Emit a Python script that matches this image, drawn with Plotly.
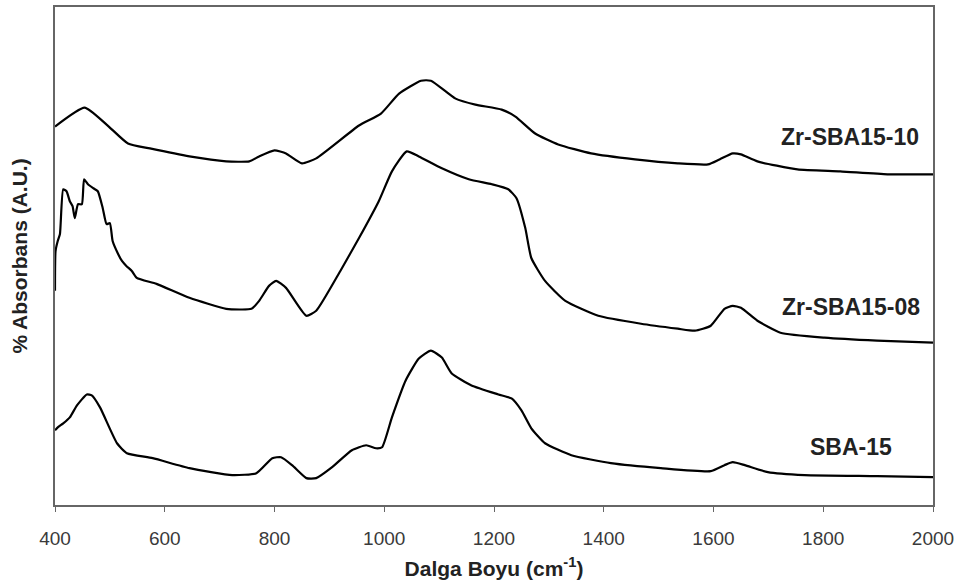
import plotly.graph_objects as go

# Wavenumber (cm^-1) and absorbance (arbitrary units)
zr10_x = [400, 454, 494, 533, 573, 645, 712, 754, 772, 800, 821, 850, 876, 954, 994, 1027,
          1067, 1085, 1130, 1166, 1214, 1239, 1275, 1317, 1377, 1457, 1535, 1590, 1611, 1635,
          1650, 1680, 1753, 1831, 1917, 2000]
zr10_y = [76.0, 79.8, 76.4, 72.6, 71.6, 70.0, 69.0, 69.0, 70.0, 71.2, 70.6, 68.6, 69.6, 76.2,
          78.6, 82.6, 85.2, 85.2, 81.6, 80.4, 79.4, 78.0, 74.6, 72.4, 70.6, 69.4, 68.6, 68.4,
          69.4, 70.6, 70.4, 69.0, 67.4, 67.0, 66.4, 66.4]

zr08_x = [400, 401, 405, 409, 415, 421, 427, 432, 436, 442, 449, 453, 460, 470, 478, 487, 494,
          500, 505, 515, 522, 530, 540, 549, 585, 645, 712, 758, 772, 790, 803, 821, 858, 876,
          920, 954, 990, 1014, 1041, 1063, 1105, 1154, 1196, 1226, 1241, 1257, 1268, 1293,
          1330, 1390, 1468, 1535, 1566, 1595, 1620, 1635, 1650, 1680, 1722, 1802, 1898, 2000]
zr08_y = [43.0, 51.0, 53.0, 54.4, 63.4, 63.0, 61.0, 60.0, 57.6, 60.4, 60.4, 65.4, 64.4, 63.6,
          63.0, 59.6, 56.4, 56.6, 53.0, 50.4, 49.0, 48.0, 47.0, 45.6, 44.4, 41.6, 39.4, 39.4,
          41.0, 44.0, 45.0, 43.6, 38.0, 39.0, 47.0, 53.6, 61.0, 67.0, 71.0, 70.0, 67.6, 65.4,
          64.4, 63.4, 61.6, 55.6, 49.6, 45.0, 41.0, 38.0, 36.4, 35.4, 35.0, 36.0, 39.4, 40.0,
          39.6, 37.0, 34.6, 33.6, 33.0, 32.6]

sba_x = [400, 405, 415, 427, 440, 458, 467, 482, 513, 531, 578, 645, 723, 767, 796, 812, 832,
         858, 876, 905, 941, 967, 985, 996, 1014, 1039, 1063, 1085, 1105, 1123, 1159, 1208,
         1232, 1250, 1268, 1293, 1341, 1413, 1504, 1595, 1620, 1635, 1657, 1699, 1766, 1898, 2000]
sba_y = [15.0, 15.6, 16.4, 17.6, 20.0, 22.2, 22.0, 19.6, 12.4, 10.4, 9.4, 7.4, 6.0, 6.4, 9.4,
         9.6, 8.0, 5.4, 5.4, 7.6, 11.0, 12.0, 11.4, 11.6, 17.6, 25.0, 29.4, 31.0, 29.6, 26.4,
         24.0, 22.2, 21.4, 19.0, 15.4, 12.4, 10.0, 8.4, 7.4, 6.8, 8.0, 8.6, 8.0, 6.6, 6.0, 5.8, 5.6]

series_names = ["Zr-SBA15-10", "Zr-SBA15-08", "SBA-15"]
label_x = [1978, 1980, 1929]
label_y = [73.8, 39.8, 11.6]
x_ticks = [400, 600, 800, 1000, 1200, 1400, 1600, 1800, 2000]

fig = go.Figure()
for name, xs, ys in zip(series_names, [zr10_x, zr08_x, sba_x], [zr10_y, zr08_y, sba_y]):
    fig.add_trace(go.Scatter(x=xs, y=ys, mode="lines", name=name,
                             line=dict(color="black", width=2.2, shape="spline", smoothing=0.5)))

for name, lx, ly in zip(series_names, label_x, label_y):
    fig.add_annotation(x=lx, y=ly, xref="x", yref="y", text="<b>%s</b>" % name,
                       showarrow=False, xanchor="right", yanchor="middle",
                       font=dict(family="Liberation Sans, Arial", size=23, color="#222"))

fig.update_layout(
    width=959, height=588,
    margin=dict(l=55, r=23, t=5, b=83),
    plot_bgcolor="white", paper_bgcolor="white",
    showlegend=False,
    font=dict(family="Liberation Sans, Arial", color="#333"),
)
fig.update_xaxes(range=[400, 2000], tickvals=x_ticks, ticktext=[str(t) for t in x_ticks],
                 ticks="outside", ticklen=5, tickcolor="#666", tickwidth=1.3,
                 showline=True, linecolor="#666", linewidth=1.5, mirror=True,
                 showgrid=False, zeroline=False, ticklabelstandoff=10,
                 tickfont=dict(size=19, color="#3a3a3a"),
                 title=dict(text="<b>Dalga Boyu (cm<sup>-1</sup>)</b>",
                            font=dict(size=21, color="#222"), standoff=14))
fig.update_yaxes(range=[0, 100], showticklabels=False, ticks="",
                 showline=True, linecolor="#666", linewidth=1.5, mirror=True,
                 showgrid=False, zeroline=False,
                 title=dict(text="<b>% Absorbans (A.U.)</b>",
                            font=dict(size=21, color="#222"), standoff=20))

fig.write_html("out.html")
